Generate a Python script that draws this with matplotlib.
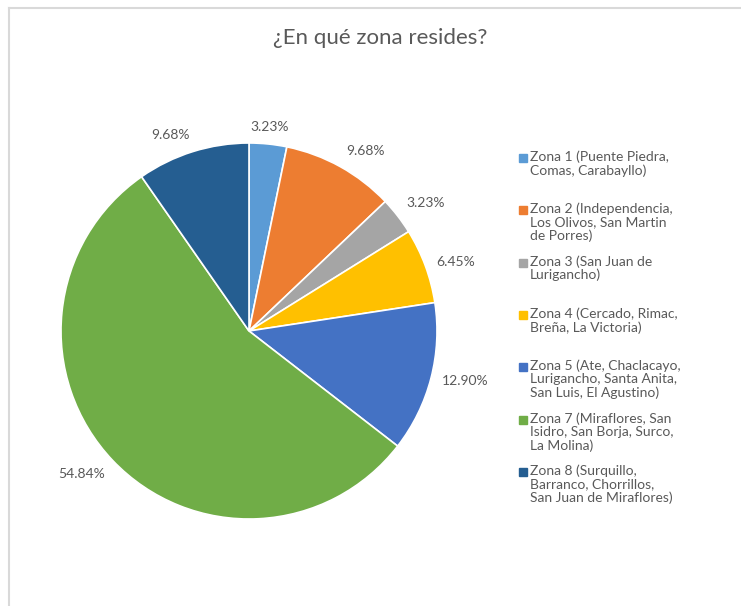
import numpy as np
import matplotlib.pyplot as plt
from matplotlib.lines import Line2D

plt.rcParams['font.family'] = ['Lato', 'DejaVu Sans']

zonas = [
    'Zona 1 (Puente Piedra,\nComas, Carabayllo)',
    'Zona 2 (Independencia,\nLos Olivos, San Martin\nde Porres)',
    'Zona 3 (San Juan de\nLurigancho)',
    'Zona 4 (Cercado, Rimac,\nBreña, La Victoria)',
    'Zona 5 (Ate, Chaclacayo,\nLurigancho, Santa Anita,\nSan Luis, El Agustino)',
    'Zona 7 (Miraflores, San\nIsidro, San Borja, Surco,\nLa Molina)',
    'Zona 8 (Surquillo,\nBarranco, Chorrillos,\nSan Juan de Miraflores)',
]
porcentajes = [3.23, 9.68, 3.23, 6.45, 12.90, 54.84, 9.68]
colores = ['#5B9BD5', '#ED7D31', '#A5A5A5', '#FFC000', '#4472C4', '#70AD47', '#255E91']
gris = '#595959'

W, H = 741, 606
fig = plt.figure(figsize=(W / 100, H / 100), dpi=100)

# marco del area del grafico
fig.add_artist(Line2D([9 / W, 9 / W], [0, 1 - 8 / H], color='#d9d9d9', lw=1.5))
fig.add_artist(Line2D([9 / W, 1], [1 - 8 / H, 1 - 8 / H], color='#d9d9d9', lw=1.5))

cx, cy, r = 249, 331, 188
ax = fig.add_axes([(cx - r) / W, (H - cy - r) / H, 2 * r / W, 2 * r / H])
wedges, _ = ax.pie(porcentajes, colors=colores, startangle=90, counterclock=False,
                   wedgeprops=dict(edgecolor='white', linewidth=1.2))
ax.set_xlim(-1, 1)
ax.set_ylim(-1, 1)
ax.axis('off')

# etiquetas de porcentaje fuera de cada sector
for w, p in zip(wedges, porcentajes):
    ang = np.deg2rad((w.theta1 + w.theta2) / 2)
    c, s = np.cos(ang), np.sin(ang)
    ha = 'left' if c > 0.12 else ('right' if c < -0.12 else 'center')
    va = 'center' if abs(s) < 0.5 else ('bottom' if s > 0 else 'top')
    ax.text(1.06 * c, 1.06 * s, f'{p:.2f}%', ha=ha, va=va, fontsize=10,
            color=gris, clip_on=False)

fig.text(380 / W, 1 - 38 / H, '¿En qué zona resides?', ha='center', va='center',
         fontsize=16, color=gris)

# leyenda
y0, paso = 158, 52.3
for i, (z, col) in enumerate(zip(zonas, colores)):
    y = y0 + i * paso
    fig.add_artist(Line2D([523 / W], [1 - y / H], marker='s', markersize=5.5,
                          color=col, linestyle='none'))
    fig.text(530 / W, 1 - (y - 7.5) / H, z, ha='left', va='top', fontsize=10,
             color=gris, linespacing=1.12)

fig.savefig('out.png', dpi=100)
